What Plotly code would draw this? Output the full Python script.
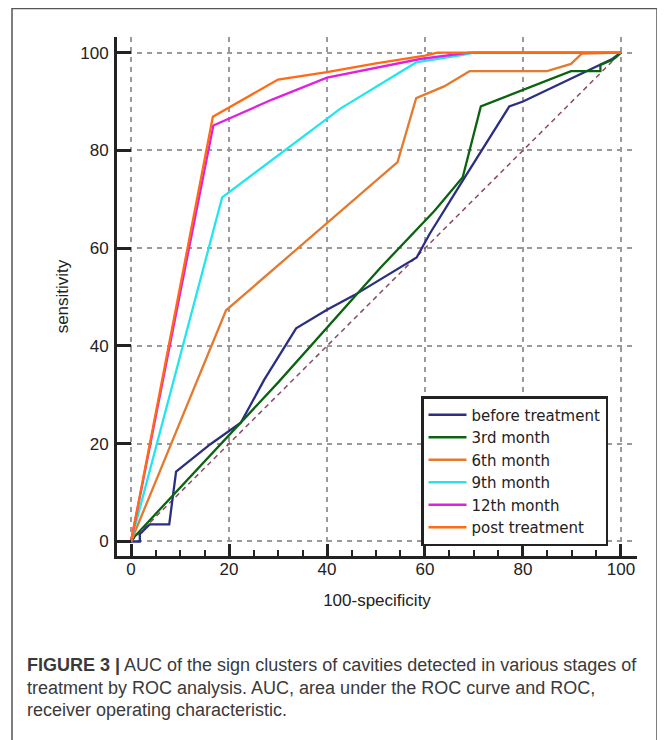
import plotly.graph_objects as go

# ---- data (100-specificity, sensitivity) ----
series_names = ["before treatment", "3rd month", "6th month", "9th month", "12th month", "post treatment"]

before_x = [0, 1.8, 1.8, 3.8, 7.8, 9.2, 16.2, 22.4, 27.2, 33.7, 40, 45.6, 58.3, 61, 67.7, 77.2, 80, 98.2, 100]
before_y = [0, 0, 1.5, 3.5, 3.5, 14.3, 19.9, 24.3, 33.1, 43.6, 47.4, 50.4, 58.1, 63, 73.8, 89, 90, 98.7, 100]

m3_x = [0, 0.9, 30, 50.9, 62, 67.7, 71.4, 77.9, 89.8, 95.8, 95.8, 98.4, 100]
m3_y = [0, 1.2, 32.5, 56, 67.7, 74.5, 89, 91.5, 96.2, 96.2, 97.5, 98.6, 100]

m6_x = [0, 19.4, 54.4, 58.2, 63.9, 69.1, 84.9, 89.8, 92, 100]
m6_y = [0, 47.3, 77.6, 90.7, 93.1, 96.2, 96.2, 97.7, 99.8, 100]

m9_x = [0, 18.6, 42.8, 58.2, 67.4, 70, 100]
m9_y = [0, 70.4, 88.6, 98, 99.5, 100, 100]

m12_x = [0, 16.8, 28.8, 40, 59, 69, 100]
m12_y = [0, 85.1, 90.4, 94.9, 98.7, 100, 100]

post_x = [0, 16.7, 30, 40, 50, 60, 62.5, 100]
post_y = [0, 86.9, 94.5, 96, 97.8, 99.4, 100, 100]

diag_x = [0, 100]
diag_y = [0, 100]

x_ticks = [0, 20, 40, 60, 80, 100]
y_ticks = [0, 20, 40, 60, 80, 100]

colors = ["#2B2E83", "#0A640F", "#E47A2E", "#22E5EE", "#E020E0", "#FF6A13"]

caption_lines = [
    "<b>FIGURE 3 |</b> AUC of the sign clusters of cavities detected in various stages of",
    "treatment by ROC analysis. AUC, area under the ROC curve and ROC,",
    "receiver operating characteristic.",
]

# ---- figure ----
fig = go.Figure()
fig.add_trace(go.Scatter(x=diag_x, y=diag_y, mode="lines", showlegend=False,
                         line=dict(color="#8B4A5E", width=1.5, dash="5px,4px"), hoverinfo="skip"))

all_x = [before_x, m3_x, m6_x, m9_x, m12_x, post_x]
all_y = [before_y, m3_y, m6_y, m9_y, m12_y, post_y]
for name, xs, ys, c in zip(series_names, all_x, all_y, colors):
    fig.add_trace(go.Scatter(x=xs, y=ys, mode="lines", name=name,
                             line=dict(color=c, width=2.3)))

OFF = 8  # page body margin
W, H = 665 - OFF, 740 - OFF
# plot area in page pixels: left 117, right 637, top 37, bottom 556
L = 117 - OFF
T = 37 - OFF
R = W - (637 - OFF)
B = H - (556 - OFF)
pw, ph = W - L - R, H - T - B

def px_to_paper_x(px):
    return (px - OFF - L) / pw

def px_to_paper_y(py):
    return (H - B - (py - OFF)) / ph

axis_font = dict(family="Liberation Sans, Arial, sans-serif", size=17, color="#222")

fig.update_layout(
    width=W, height=H,
    margin=dict(l=L, r=R, t=T, b=B, pad=0),
    paper_bgcolor="white", plot_bgcolor="white",
    font=axis_font,
    xaxis=dict(
        range=[-2.86, 103.27], tickvals=x_ticks, ticks="inside", ticklen=12, tickwidth=3,
        tickcolor="#222", showline=True, linewidth=3, linecolor="#222", zeroline=False,
        showgrid=True, gridcolor="#9a9a9a", gridwidth=1.5, griddash="5px,5px",
        minor=dict(dtick=5, tick0=0, ticks="inside", ticklen=6, tickwidth=2, tickcolor="#222", showgrid=False),
        title=dict(text="100-specificity", standoff=16, font=axis_font),
        tickfont=axis_font, ticklabelstandoff=-4,
    ),
    yaxis=dict(
        range=[-2.97, 103.2], tickvals=y_ticks, ticks="inside", ticklen=14, tickwidth=3,
        tickcolor="#222", showline=True, linewidth=3, linecolor="#222", zeroline=False,
        showgrid=True, gridcolor="#9a9a9a", gridwidth=1.5, griddash="5px,5px",
        title=dict(text="sensitivity", standoff=8, font=axis_font),
        tickfont=axis_font, ticklabelstandoff=2,
    ),
    legend=dict(
        x=px_to_paper_x(421), y=px_to_paper_y(396), xanchor="left", yanchor="top",
        bgcolor="white", bordercolor="#222", borderwidth=2.5,
        font=dict(family="DejaVu Sans, sans-serif", size=15, color="#222"),
        tracegroupgap=0, itemwidth=38,
    ),
)

# outer frame
fig.add_shape(type="rect", xref="paper", yref="paper",
              x0=px_to_paper_x(12), x1=px_to_paper_x(657),
              y0=px_to_paper_y(760), y1=px_to_paper_y(8.5),
              line=dict(color="#555", width=1.5), fillcolor="rgba(0,0,0,0)", layer="below")

for line, cy in zip(caption_lines, [664.5, 688, 710]):
    fig.add_annotation(text=line, xref="paper", yref="paper",
                       x=px_to_paper_x(25), y=px_to_paper_y(cy), xanchor="left", yanchor="middle",
                       showarrow=False, align="left",
                       font=dict(family="Liberation Sans, Arial, sans-serif", size=18, color="#3a3a3a"))

fig.write_html("out.html")
